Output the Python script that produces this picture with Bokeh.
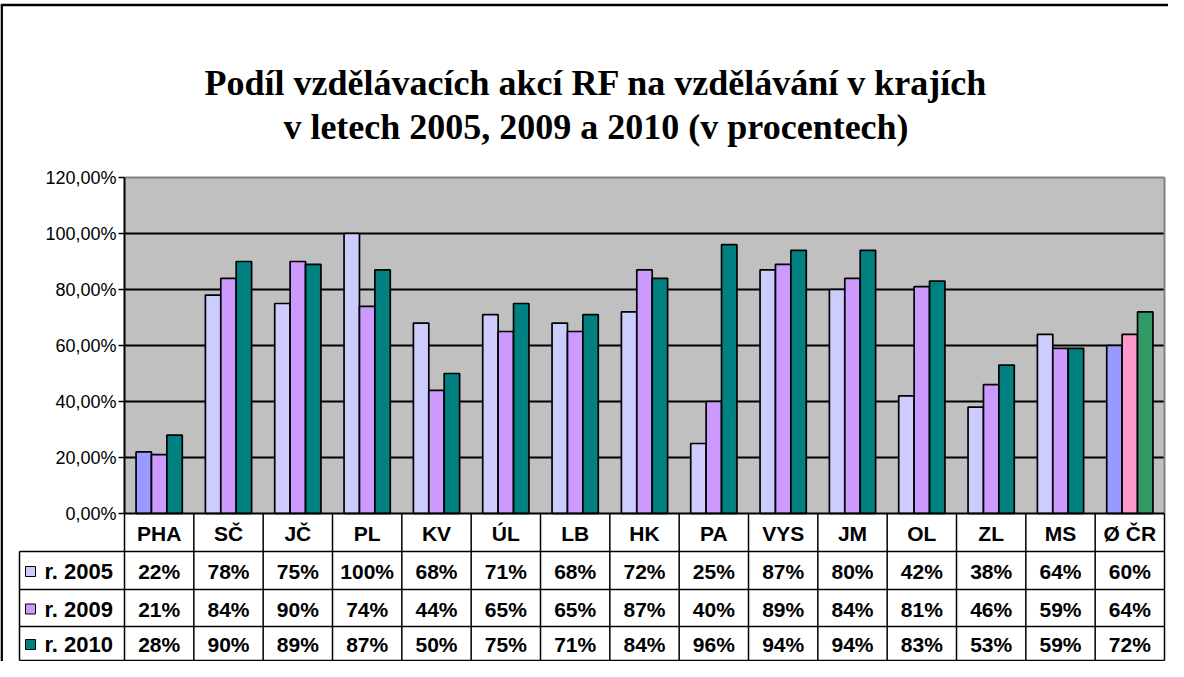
from bokeh.plotting import figure
from bokeh.models import Range1d, ColumnDataSource
from bokeh.core.properties import value
from bokeh.embed import file_html
from bokeh.resources import INLINE

# ---------------- data ----------------
categories = ["PHA", "SČ", "JČ", "PL", "KV", "ÚL", "LB", "HK", "PA", "VYS", "JM", "OL", "ZL", "MS", "Ø ČR"]
years = ["r. 2005", "r. 2009", "r. 2010"]
v2005 = [22, 78, 75, 100, 68, 71, 68, 72, 25, 87, 80, 42, 38, 64, 60]
v2009 = [21, 84, 90, 74, 44, 65, 65, 87, 40, 89, 84, 81, 46, 59, 64]
v2010 = [28, 90, 89, 87, 50, 75, 71, 84, 96, 94, 94, 83, 53, 59, 72]
y_ticks = [0, 20, 40, 60, 80, 100, 120]
y_tick_labels = ["0,00%", "20,00%", "40,00%", "60,00%", "80,00%", "100,00%", "120,00%"]
title_lines = ["Podíl vzdělávacích akcí RF  na vzdělávání v krajích",
               "v  letech 2005, 2009 a 2010 (v procentech)"]

series = [v2005, v2009, v2010]
series_colors = ["#CCCCFF", "#CC99FF", "#008080"]
pha_colors = ["#9999FF", "#CC99FF", "#008080"]
avg_colors = ["#9999FF", "#FF99CC", "#339966"]

# ---------------- layout ----------------
W, H = 1168, 661
PL, PR, PT, PB = 124, 1164, 177, 513
N = len(categories)
cw = (PR - PL) / N
ymax = 120
ppu = (PB - PT) / ymax
rows = [513, 551, 589, 626, 660]
TL = 19
SANS = value("Liberation Sans")
SERIF = value("Liberation Serif")

p = figure(width=W, height=H, output_backend="svg", toolbar_location=None,
           x_range=Range1d(-PL / cw, N + (W - PR) / cw),
           y_range=Range1d(-(H - PB) / ppu, ymax + PT / ppu),
           x_axis_location=None, y_axis_location=None,
           min_border=0, background_fill_color="white", border_fill_color="white")
p.extra_x_ranges = {"px": Range1d(0, W)}
p.extra_y_ranges = {"px": Range1d(H, 0)}
p.xgrid.visible = False
p.ygrid.visible = False
p.outline_line_color = None

# outer chart border
p.segment(x0=[1.2, 0], y0=[4.5, 4.5], x1=[1.2, W], y1=[H, 4.5],
          x_range_name="px", y_range_name="px", line_color="black", line_width=2.5)

# title
p.text(x=[600, 600], y=[82, 126], text=title_lines, x_range_name="px", y_range_name="px",
       text_align="center", text_baseline="alphabetic", text_font=SERIF,
       text_font_style="bold", text_font_size="36px", text_color="black")

# plot area
p.quad(left=[0], right=[N], bottom=[0], top=[ymax], fill_color="#C0C0C0", line_color=None)
p.segment(x0=[0] * 5, x1=[N] * 5, y0=y_ticks[1:-1], y1=y_ticks[1:-1],
          line_color="black", line_width=2)
p.segment(x0=[0, N], x1=[N, N], y0=[ymax, 0], y1=[ymax, ymax],
          line_color="#808080", line_width=2)

# bars
bw = 1 / 4.5
offsets = [-bw, 0, bw]
for k, vals in enumerate(series):
    cols = []
    for i in range(N):
        if i == 0:
            cols.append(pha_colors[k])
        elif i == N - 1:
            cols.append(avg_colors[k])
        else:
            cols.append(series_colors[k])
    src = ColumnDataSource(dict(x=[i + 0.5 + offsets[k] for i in range(N)], top=vals, color=cols))
    p.vbar(x="x", top="top", bottom=0, width=bw, source=src, fill_color="color",
           line_color="black", line_width=1.7)

# y axis
p.segment(x0=[0], x1=[0], y0=[0], y1=[ymax], line_color="black", line_width=2)
p.segment(x0=[PL - 6] * len(y_ticks), x1=[PL] * len(y_ticks), y0=y_ticks, y1=y_ticks,
          x_range_name="px", line_color="black", line_width=1.5)
p.text(x=[PL - 8] * len(y_ticks), y=y_ticks, text=y_tick_labels, x_range_name="px",
       text_align="right", text_baseline="middle", text_font=SANS,
       text_font_size="18px", text_color="black")

# data table: lines
p.segment(x0=[0], x1=[N], y0=[0], y1=[0], line_color="black", line_width=2)
p.segment(x0=list(range(N + 1)), x1=list(range(N + 1)), y0=[rows[0]] * (N + 1), y1=[rows[-1]] * (N + 1),
          y_range_name="px", line_color="black", line_width=1.5)
p.segment(x0=[TL] * 4, x1=[PR] * 4, y0=rows[1:], y1=rows[1:],
          x_range_name="px", y_range_name="px", line_color="black", line_width=1.5)
p.segment(x0=[TL], x1=[TL], y0=[rows[1]], y1=[rows[-1]],
          x_range_name="px", y_range_name="px", line_color="black", line_width=1.5)

# table header
p.text(x=[i + 0.5 for i in range(N)], y=[(rows[0] + rows[1]) / 2 + 1] * N, text=categories,
       y_range_name="px", text_align="center", text_baseline="middle", text_font=SANS,
       text_font_style="bold", text_font_size="21px", text_color="black")

# table rows
for k, vals in enumerate(series):
    ym = (rows[k + 1] + rows[k + 2]) / 2 + 1
    p.rect(x=[30], y=[ym], width=10, height=10, x_range_name="px", y_range_name="px",
           fill_color=series_colors[k], line_color="black", line_width=1)
    p.text(x=[44], y=[ym], text=[years[k]], x_range_name="px", y_range_name="px",
           text_align="left", text_baseline="middle", text_font=SANS,
           text_font_style="bold", text_font_size="22px", text_color="black")
    p.text(x=[i + 0.5 for i in range(N)], y=[ym] * N, text=[f"{v}%" for v in vals],
           y_range_name="px", text_align="center", text_baseline="middle", text_font=SANS,
           text_font_style="bold", text_font_size="21px", text_color="black")

open("out.html", "w").write(file_html(p, INLINE))
